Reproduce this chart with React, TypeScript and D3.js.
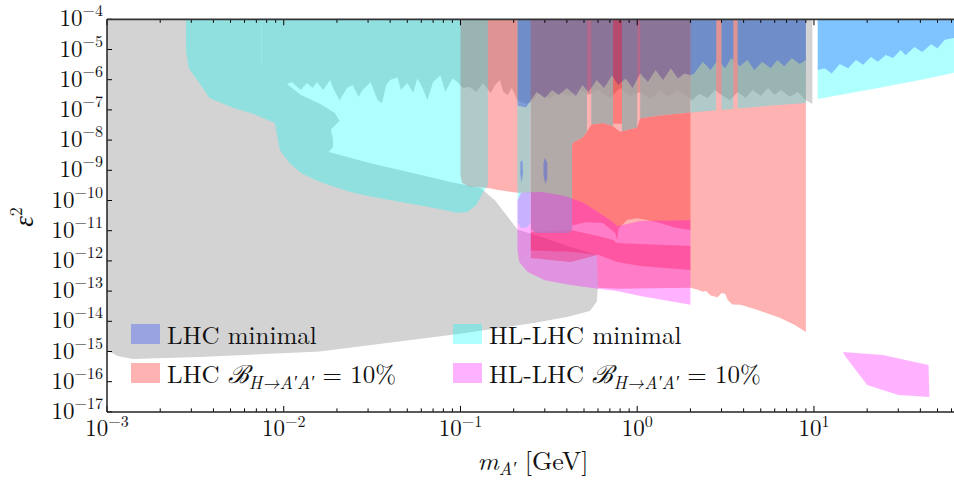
import React from 'react';
import * as d3 from 'd3';

type P = [number, number];

// axes
const X_DOMAIN: P = [1e-3, 62];
const Y_DOMAIN: P = [1e-17, 1e-4];
const X_TICK_EXP = [-3, -2, -1, 0, 1];
const Y_TICK_EXP = [-17, -16, -15, -14, -13, -12, -11, -10, -9, -8, -7, -6, -5, -4];

// existing constraints (grey)
const GRAY_MAIN: P[] = [[1e-3,1e-4],[7.5e-3,1e-4],[7.5e-3,3.1e-6],[8.4e-3,2.6e-6],[9.3e-3,1.2e-6],[1.06e-2,6.7e-7],[1.25e-2,3.1e-7],[1.6e-2,1.6e-7],[1.95e-2,7.9e-8],[2.07e-2,4.3e-8],[1.85e-2,2.3e-8],[1.9e-2,1e-8],[1.9e-2,5.9e-9],[1.8e-2,4e-9],[3.1e-2,1.7e-9],[4.6e-2,1e-9],[8.8e-2,4.1e-10],[0.13,2.6e-10],[0.157,1.0e-10],[0.21,1.1e-11],[0.3,5.7e-12],[0.42,2.9e-12],[0.59,1.6e-12],[0.6,1.6e-13],[0.59,4.4e-14],[0.54,2.2e-14],[0.4,1.4e-14],[0.26,8.8e-15],[8.8e-2,3.5e-15],[4.6e-2,2.2e-15],[1.6e-2,1.0e-15],[3.36e-3,6.6e-16],[1.4e-3,5.6e-16],[1.15e-3,7.1e-16],[1e-3,1.1e-15]];
const GRAY_TOP: P[] = [[7.5e-3,1e-4],[9.8,1e-4],[9.8,1.6e-7],[9.0,2.1e-7],[8.1,3.9e-7],[7.3,2.7e-7],[6.5,4.6e-7],[6.0,3.1e-7],[5.5,5.3e-7],[5.0,2.9e-7],[4.5,4.6e-7],[4.1,2.5e-7],[3.7,3.9e-7],[3.35,2.1e-7],[3.0,3.1e-7],[2.75,4.6e-7],[2.5,2.5e-7],[2.25,3.4e-7],[2.05,2.1e-7],[1.85,3.1e-7],[1.7,4.6e-7],[1.5,2.7e-7],[1.35,4.2e-7],[1.18,2.3e-7],[1.04,3.9e-7],[0.91,2.9e-7],[0.8,5.3e-7],[0.7,2.5e-7],[0.6,4.6e-7],[0.53,3.1e-7],[0.46,5.3e-7],[0.42,2.9e-7],[0.36,3.9e-7],[0.32,2.3e-7],[0.28,3.6e-7],[0.25,1.8e-7],[0.235,1.6e-7],[0.21,2.1e-7],[0.195,5.3e-7],[0.185,3.1e-7],[0.175,3.9e-7],[0.167,9.8e-7],[0.157,6.7e-7],[0.148,3.6e-7],[0.134,7.8e-7],[0.123,3.9e-7],[0.112,5.7e-7],[0.103,5.3e-7],[0.096,8.4e-7],[0.09,1.1e-6],[0.082,3.9e-7],[0.077,1.4e-6],[0.07,8.4e-7],[0.065,2.1e-7],[0.061,5.3e-7],[0.057,1.1e-6],[0.054,3.6e-7],[0.05,7.8e-7],[0.046,4.6e-7],[0.044,1.2e-6],[0.04,9.8e-7],[0.038,6.7e-7],[0.036,1.7e-7],[0.034,2.1e-7],[0.031,8.4e-7],[0.028,4.6e-7],[0.0265,2.7e-7],[0.0245,6.7e-7],[0.0228,5.3e-7],[0.0207,2.1e-7],[0.019,5.3e-7],[0.0183,9.8e-7],[0.0167,4.6e-7],[0.0154,8.4e-7],[0.0146,5.3e-7],[0.0135,7.8e-7],[0.0125,4.6e-7],[0.0111,8.4e-7],[0.0102,6.7e-7],[0.0093,1.1e-6],[0.0084,2.4e-6],[0.0075,3.1e-6]];

// LHC B = 10% (red)
const LHC10_MAIN: P[] = [[0.1,1e-4],[9.0,1e-4],[9.0,4.4e-15],[7.8,7.5e-15],[6.4,1.3e-14],[5.0,2.2e-14],[3.85,3.5e-14],[3.45,3.6e-14],[3.25,5.1e-14],[3.15,8.0e-14],[3.0,8.7e-14],[2.85,6.2e-14],[2.6,7.2e-14],[2.45,1.0e-13],[2.35,9.5e-14],[2.2,1.1e-13],[2.0,1.3e-13],[0.77,1.2e-13],[0.6,1.3e-13],[0.59,1.6e-12],[0.42,2e-12],[0.25,2.2e-12],[0.25,1.8e-10],[0.21,1.8e-10],[0.167,2.2e-10],[0.143,2.6e-10],[0.112,2.9e-10],[0.102,3.8e-10],[0.1,7e-10]];
const LHC10_BLOB: P[] = [[0.428,5.9e-9],[0.43,8e-9],[0.49,1.2e-8],[0.52,1.9e-8],[0.55,3.3e-8],[0.64,3.7e-8],[0.72,3.0e-8],[0.8,1.9e-8],[1.0,2.6e-8],[1.04,5.3e-8],[1.35,6.5e-8],[2.0,8.2e-8],[2.0,1.05e-11],[1.6,1.3e-11],[1.35,1.8e-11],[1.0,2.6e-11],[0.88,2.3e-11],[0.785,1.2e-11],[0.77,4.9e-12],[0.75,8.4e-12],[0.64,1.8e-11],[0.51,1.9e-11],[0.428,1.5e-11]];
const LHC10_STRIPE: P[] = [[0.73,1e-4],[0.82,1e-4],[0.82,3.5e-8],[0.73,3.5e-8]];
const LHC10_BAND: P[] = [[0.25,8.9e-12],[0.42,1.05e-11],[0.6,6.7e-12],[0.73,4.9e-12],[0.77,3.9e-12],[1.04,3.6e-12],[2.0,3.1e-12],[2.0,5e-13],[1.04,6.8e-13],[0.77,9.2e-13],[0.6,1.6e-12],[0.42,9.2e-13],[0.25,1.25e-12]];

// HL-LHC minimal (cyan)
const HLMIN: P[] = [[2.8e-3,1e-4],[62,1e-4],[62,1.7e-6],[40,9.8e-7],[20,4.6e-7],[14,3.1e-7],[10.5,2.3e-7],[9,1.7e-7],[5,1.3e-7],[2.95,1e-7],[2.0,8.2e-8],[0.25,8.5e-8],[0.25,1.9e-11],[0.24,1.3e-11],[0.22,1.2e-11],[0.21,1.9e-11],[0.21,2.2e-10],[0.143,2.2e-10],[0.143,3.3e-10],[0.134,1.8e-10],[0.123,7.1e-11],[0.109,4.2e-11],[0.096,3.9e-11],[0.07,5.7e-11],[0.046,8.9e-11],[0.032,1.3e-10],[0.0238,1.9e-10],[0.016,4.1e-10],[0.0125,8.1e-10],[0.0108,1.7e-9],[0.0095,4.7e-9],[0.0089,3.7e-8],[0.0065,7.9e-8],[0.0051,1.2e-7],[0.0038,2.5e-7],[0.0033,8.4e-7],[0.0029,2.4e-6],[0.0028,9.6e-6]];
const HLMIN_WINDOWS: P[] = [[1e-3,0.143],[0.21,0.25],[2.0,2.8],[3.0,3.5],[3.7,9.0],[10.5,62]];

// shaded overlap band
const OVERLAP_BAND: P[] = [[0.25,1e-4],[2.0,1e-4],[2.0,8.2e-8],[1.35,6.5e-8],[1.04,5.3e-8],[1.0,2.6e-8],[0.8,1.9e-8],[0.72,3.0e-8],[0.64,3.7e-8],[0.55,3.3e-8],[0.52,1.9e-8],[0.49,1.2e-8],[0.43,8e-9],[0.428,5.9e-9],[0.428,1.05e-11],[0.41,8.4e-12],[0.265,8.4e-12],[0.25,1.2e-11]];
const OVERLAP_WINDOWS: P[] = [[0.25,0.52],[0.55,0.73],[0.82,1.0],[1.04,2.0]];

// HL-LHC B = 10% (magenta)
const HL10_MAIN: P[] = [[0.21,1.0e-10],[0.22,1.8e-10],[0.29,1.9e-10],[0.39,1.4e-10],[0.5,8.3e-11],[0.6,4.2e-11],[0.73,1.9e-11],[0.77,1.4e-11],[1.04,2.1e-11],[2.0,2.2e-11],[2.0,3.5e-14],[1.04,6.9e-14],[0.77,1.0e-13],[0.6,1.2e-13],[0.42,1.6e-13],[0.3,2.3e-13],[0.24,4.3e-13],[0.215,9.2e-13],[0.21,2.3e-12]];
const HL10_HIGH: P[] = [[14.6,9.6e-16],[24.5,7.7e-16],[44.5,3.6e-16],[45,3.1e-17],[30,3.6e-17],[20,7.8e-17],[15,7.1e-16]];

// LHC minimal (blue)
const LHCMIN: P[] = [[0.21,1e-4],[62,1e-4],[62,2.4e-5],[55,2.1e-5],[50,1.1e-5],[46,1.5e-5],[41,8.3e-6],[37,1.2e-5],[33,6.5e-6],[31,9.6e-6],[28,5.2e-6],[25.5,6.6e-6],[23,3.9e-6],[21,5.6e-6],[19,3.1e-6],[17.3,4.5e-6],[15.6,2.4e-6],[14,3.3e-6],[12.6,1.6e-6],[11.5,2.4e-6],[10.5,2.1e-6],[9.0,2.1e-6],[9.0,4.5e-6],[8.3,3.3e-6],[7.5,5.2e-6],[6.8,2.8e-6],[6.2,4.5e-6],[5.7,2.4e-6],[5.1,3.9e-6],[4.6,2.1e-6],[4.2,4.5e-6],[3.8,2.8e-6],[3.4,5.2e-6],[3.15,2.4e-6],[2.85,4.5e-6],[2.6,2.1e-6],[2.35,3.9e-6],[2.1,1.6e-6],[2.0,1.4e-6],[1.85,1.6e-6],[1.7,1.1e-6],[1.55,2.4e-6],[1.4,9.8e-7],[1.27,2.1e-6],[1.15,8.4e-7],[1.04,1.6e-6],[0.94,5.3e-7],[0.86,1.1e-6],[0.78,6.7e-7],[0.72,1.4e-6],[0.65,5.3e-7],[0.59,9.8e-7],[0.53,3.9e-7],[0.49,6.7e-7],[0.45,2.9e-7],[0.4,5.3e-7],[0.36,3.1e-7],[0.33,4.6e-7],[0.3,2.5e-7],[0.27,3.9e-7],[0.25,2.1e-7],[0.235,1.2e-7],[0.21,1.4e-7]];
const LHCMIN_WINDOWS: P[] = [[0.21,0.25],[2.0,2.8],[3.0,3.5],[3.7,9.0],[10.5,62]];
const LHCMIN_BAND_WINDOWS: P[] = [[0.25,2.0]];
const LHCMIN_ISLAND_A: P[] = [[0.218,1.9e-9],[0.224,2.2e-9],[0.226,8.8e-10],[0.222,3.8e-10],[0.218,7e-10]];
const LHCMIN_ISLAND_B: P[] = [[0.3,2.6e-9],[0.31,1.7e-9],[0.31,5.6e-10],[0.303,3.5e-10],[0.295,6.5e-10],[0.295,1.7e-9]];

const C_GRAY = '#d3d3d3';
const C_RED = 'rgba(255,0,0,0.3)';
const C_CYAN = 'rgba(0,255,255,0.31)';
const C_BAND = 'rgba(159,166,166,0.8)';
const C_MAG = 'rgba(255,0,255,0.3)';
const C_BLUE = 'rgba(0,40,255,0.28)';
const C_BLUE_ON_BAND = 'rgba(60,10,130,0.3)';

const W = 954, H = 482;
const L = 107, R = 954, T = 19.3, B = 411.9;
const TXT: React.CSSProperties = { fontFamily: '"Latin Modern Roman"' };

export default function App() {
  const x = d3.scaleLog().domain(X_DOMAIN).range([L, R]);
  const y = d3.scaleLog().domain(Y_DOMAIN).range([B, T]);
  const line = d3.line<P>().x(d => x(d[0])).y(d => y(d[1]));
  const path = (pts: P[]) => line(pts) + 'Z';

  const windowsClip = (id: string, wins: P[]) => (
    <clipPath id={id}>
      {wins.map((w, i) => (
        <rect key={i} x={x(w[0])} y={T} width={x(w[1]) - x(w[0])} height={B - T} />
      ))}
    </clipPath>
  );

  const minorX: number[] = [];
  X_TICK_EXP.forEach(e => {
    for (let k = 2; k <= 9; k++) {
      const v = k * Math.pow(10, e);
      if (v < X_DOMAIN[1]) minorX.push(v);
    }
  });

  const legend = [
    { c: C_BLUE, col: 0, row: 0, label: 'LHC minimal', br: false, pre: 'LHC' },
    { c: C_RED, col: 0, row: 1, label: '', br: true, pre: 'LHC' },
    { c: C_CYAN, col: 1, row: 0, label: 'HL-LHC minimal', br: false, pre: 'HL-LHC' },
    { c: C_MAG, col: 1, row: 1, label: '', br: true, pre: 'HL-LHC' },
  ];
  const colX = [131, 453];
  const rowY = [324, 363];

  return (
    <svg width={W} height={H} style={{ position: 'absolute', left: 0, top: 0, background: '#fff' }}>
      <defs>
        <clipPath id="plot"><rect x={L} y={T} width={R - L} height={B - T} /></clipPath>
        {windowsClip('hlwin', HLMIN_WINDOWS)}
        {windowsClip('lhcwin', LHCMIN_WINDOWS)}
        {windowsClip('lhcbandwin', LHCMIN_BAND_WINDOWS)}
        {windowsClip('bandwin', OVERLAP_WINDOWS)}
      </defs>
      <g clipPath="url(#plot)">
        <path d={path(GRAY_MAIN)} fill={C_GRAY} />
        <path d={path(GRAY_TOP)} fill={C_GRAY} />
        <path d={path(LHC10_MAIN)} fill={C_RED} />
        <path d={path(LHC10_BLOB)} fill={C_RED} />
        <path d={path(LHC10_STRIPE)} fill={C_RED} />
        <path d={path(LHC10_BAND)} fill={C_RED} />
        <g clipPath="url(#hlwin)"><path d={path(HLMIN)} fill={C_CYAN} /></g>
        <g clipPath="url(#bandwin)"><path d={path(OVERLAP_BAND)} fill={C_BAND} /></g>
        <path d={path(HL10_MAIN)} fill={C_MAG} />
        <path d={path(HL10_HIGH)} fill={C_MAG} />
        <g clipPath="url(#lhcwin)"><path d={path(LHCMIN)} fill={C_BLUE} /></g>
        <g clipPath="url(#lhcbandwin)"><path d={path(LHCMIN)} fill={C_BLUE_ON_BAND} /></g>
        <path d={path(LHCMIN_ISLAND_A)} fill={C_BLUE} />
        <path d={path(LHCMIN_ISLAND_B)} fill={C_BLUE} />
      </g>

      {/* ticks */}
      <g stroke="#000" strokeWidth={1}>
        {X_TICK_EXP.map(e => {
          const px = x(Math.pow(10, e));
          return (
            <g key={e}>
              <line x1={px} x2={px} y1={B} y2={B - 6} />
              <line x1={px} x2={px} y1={T} y2={T + 6} />
            </g>
          );
        })}
        {minorX.map((v, i) => {
          const px = x(v);
          return (
            <g key={i}>
              <line x1={px} x2={px} y1={B} y2={B - 3.5} />
              <line x1={px} x2={px} y1={T} y2={T + 3.5} />
            </g>
          );
        })}
        {Y_TICK_EXP.map(e => {
          const py = y(Math.pow(10, e));
          return <line key={e} x1={L} x2={L + 5} y1={py} y2={py} />;
        })}
      </g>
      {/* spines */}
      <line x1={L} x2={L} y1={T} y2={B} stroke="#222" strokeWidth={1.5} />
      <line x1={L} x2={R} y1={B} y2={B} stroke="#222" strokeWidth={1.5} />
      <line x1={L} x2={R} y1={T} y2={T} stroke="#333" strokeWidth={1.8} />

      {/* tick labels */}
      {Y_TICK_EXP.map(e => (
        <text key={e} x={103} y={y(Math.pow(10, e)) + 7} textAnchor="end" fontSize={23} fill="#111" style={TXT}>
          10<tspan fontSize={16} dy={-10}>{'\u2212' + Math.abs(e)}</tspan>
        </text>
      ))}
      {X_TICK_EXP.map(e => (
        <text key={e} x={x(Math.pow(10, e))} y={436} textAnchor="middle" fontSize={23} fill="#111" style={TXT}>
          10<tspan fontSize={16} dy={-9}>{e < 0 ? '\u2212' + Math.abs(e) : String(e)}</tspan>
        </text>
      ))}

      {/* axis labels */}
      <text x={533} y={470} textAnchor="middle" fontSize={26} fill="#111" style={TXT}>
        <tspan fontStyle="italic">m</tspan>
        <tspan fontStyle="italic" fontSize={18} dy={5}>{'A\u2032'}</tspan>
        <tspan dy={-5}>{' [GeV]'}</tspan>
      </text>
      <text transform="translate(33,217) rotate(-90)" textAnchor="middle" fontSize={27} fill="#111" style={TXT}>
        <tspan fontStyle="italic">{'\u03b5'}</tspan>
        <tspan fontSize={18} dy={-11}>2</tspan>
      </text>

      {/* legend */}
      {legend.map((d, i) => {
        const lx = colX[d.col];
        const ly = rowY[d.row];
        return (
          <g key={i}>
            <rect x={lx} y={ly} width={29} height={20} fill={d.c} />
            {d.br ? (
              <text x={lx + 36} y={ly + 20} fontSize={25} fill="#111" style={TXT}>
                {d.pre + ' '}
                <tspan fontStyle="italic">{'\u212c'}</tspan>
                <tspan fontStyle="italic" fontSize={18} dy={6}>{'H\u2192A\u2032A\u2032'}</tspan>
                <tspan dy={-6}>{' = 10%'}</tspan>
              </text>
            ) : (
              <text x={lx + 36} y={ly + 20} fontSize={25} fill="#111" style={TXT}>{d.label}</text>
            )}
          </g>
        );
      })}
    </svg>
  );
}
